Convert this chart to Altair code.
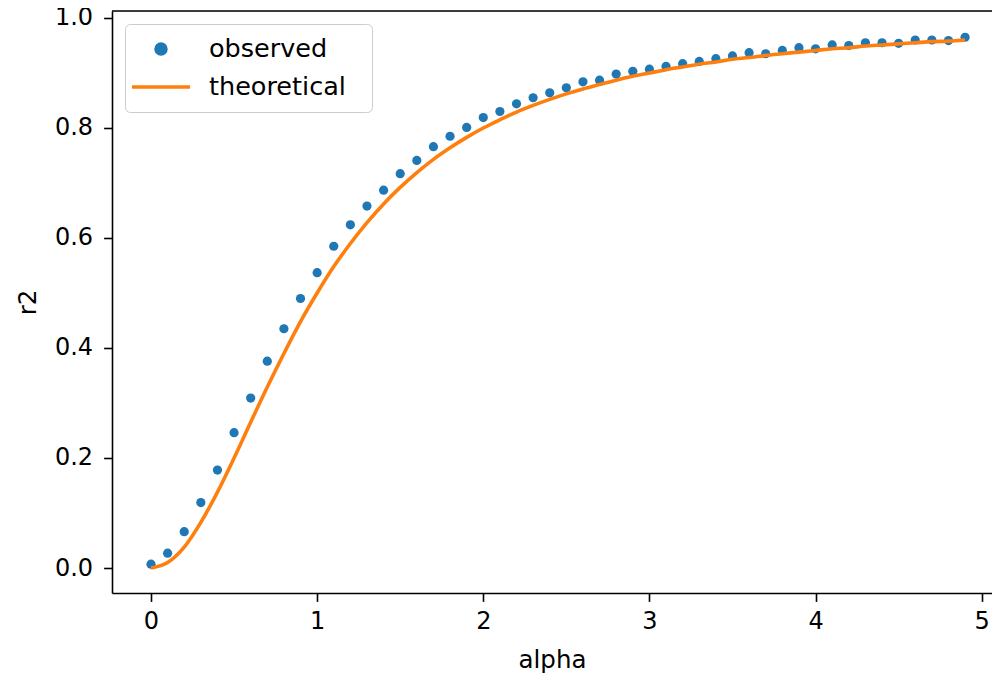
import altair as alt
import pandas as pd

# ---- data ----
alpha = [0.0, 0.1, 0.2, 0.3, 0.4, 0.5, 0.6, 0.7, 0.8, 0.9,
         1.0, 1.1, 1.2, 1.3, 1.4, 1.5, 1.6, 1.7, 1.8, 1.9,
         2.0, 2.1, 2.2, 2.3, 2.4, 2.5, 2.6, 2.7, 2.8, 2.9,
         3.0, 3.1, 3.2, 3.3, 3.4, 3.5, 3.6, 3.7, 3.8, 3.9,
         4.0, 4.1, 4.2, 4.3, 4.4, 4.5, 4.6, 4.7, 4.8, 4.9]

observed = [0.007, 0.027, 0.066, 0.119, 0.178, 0.246, 0.309, 0.376, 0.435, 0.490,
            0.537, 0.585, 0.624, 0.658, 0.687, 0.717, 0.741, 0.766, 0.785, 0.801,
            0.819, 0.830, 0.844, 0.855, 0.864, 0.873, 0.884, 0.887, 0.898, 0.903,
            0.907, 0.912, 0.917, 0.921, 0.926, 0.931, 0.937, 0.935, 0.941, 0.946,
            0.944, 0.951, 0.950, 0.955, 0.955, 0.954, 0.960, 0.960, 0.959, 0.965]

theoretical = [0.000, 0.010, 0.038, 0.083, 0.138, 0.200, 0.265, 0.329, 0.390, 0.448,
               0.500, 0.548, 0.590, 0.628, 0.662, 0.692, 0.719, 0.743, 0.764, 0.783,
               0.800, 0.815, 0.829, 0.841, 0.852, 0.862, 0.871, 0.879, 0.887, 0.894,
               0.900, 0.906, 0.911, 0.916, 0.920, 0.925, 0.928, 0.932, 0.935, 0.938,
               0.941, 0.944, 0.946, 0.949, 0.951, 0.953, 0.955, 0.957, 0.958, 0.960]

series_names = ["observed", "theoretical"]
series_colors = ["#1f77b4", "#ff7f0e"]
x_ticks = [0, 1, 2, 3, 4, 5]
y_ticks = [0.0, 0.2, 0.4, 0.6, 0.8, 1.0]

obs_df = pd.DataFrame({"alpha": alpha, "r2": observed, "series": "observed"})
theo_df = pd.DataFrame({"alpha": alpha, "r2": theoretical, "series": "theoretical"})

FONT = "DejaVu Sans"
W, H = 880, 582

xscale = alt.Scale(domain=[-0.2347, 5.062], nice=False, zero=False)
yscale = alt.Scale(domain=[-0.04545, 1.0127], nice=False, zero=False)

xaxis = alt.Axis(values=x_ticks, format="d", title="alpha", grid=False,
                 tickSize=8.4, tickWidth=1.6, tickColor="#000",
                 domainColor="#000", domainWidth=1.6,
                 labelFont=FONT, labelFontSize=24, labelColor="#000", labelPadding=8.4,
                 titleFont=FONT, titleFontSize=24.5, titleFontWeight="normal",
                 titleColor="#000", titleY=55, labelFlush=False)
yaxis = alt.Axis(values=y_ticks, format=".1f", title="r2", grid=False,
                 tickSize=8.4, tickWidth=1.6, tickColor="#000",
                 domainColor="#000", domainWidth=1.6,
                 labelFont=FONT, labelFontSize=24, labelColor="#000", labelPadding=11,
                 titleFont=FONT, titleFontSize=24.5, titleFontWeight="normal",
                 titleColor="#000", titleX=-72, labelFlush=False)

IS_OBS = "datum.value === 'observed'"
# small dot drawn inside the (large) legend symbol box; scale unit = sqrt(size)/2
DOT_PATH = "M-0.17,0A0.17,0.17,0,1,0,0.17,0A0.17,0.17,0,1,0,-0.17,0Z"
legend = alt.Legend(
    orient="none", legendX=13, legendY=13, title=None, columns=1,
    labelFont=FONT, labelFontSize=25.5, labelColor="#000",
    labelExpr="datum.label + '\u2800'",
    padding=7, rowPadding=2, clipHeight=36,
    symbolType=alt.ExprRef(expr=f"{IS_OBS} ? '{DOT_PATH}' : 'stroke'"),
    symbolSize=3364, symbolStrokeWidth=3.6,
    symbolFillColor=alt.ExprRef(expr=f"{IS_OBS} ? '#1f77b4' : 'transparent'"),
    symbolStrokeColor=alt.ExprRef(expr=f"{IS_OBS} ? 'transparent' : '#ff7f0e'"),
    symbolOpacity=1,
    symbolOffset=-2, labelOffset=17,
    fillColor="rgba(255,255,255,0.8)", strokeColor="#cccccc", cornerRadius=5,
)

color = alt.Color("series:N", scale=alt.Scale(domain=series_names, range=series_colors),
                  legend=legend)

points = alt.Chart(obs_df).mark_circle(size=85, opacity=1).encode(
    x=alt.X("alpha:Q", scale=xscale, axis=xaxis),
    y=alt.Y("r2:Q", scale=yscale, axis=yaxis),
    color=color,
)

line = alt.Chart(theo_df).mark_line(strokeWidth=3.6, interpolate="monotone").encode(
    x=alt.X("alpha:Q", scale=xscale, axis=xaxis),
    y=alt.Y("r2:Q", scale=yscale, axis=yaxis),
    color=color,
)

top_spine = alt.Chart(pd.DataFrame({"k": [0]})).mark_rule(
    color="#000", strokeWidth=1.6).encode(
    x=alt.value(0), x2=alt.value(W), y=alt.value(0))

chart = alt.layer(points, line, top_spine).properties(
    width=W, height=H,
    autosize=alt.AutoSizeParams(type="none"),
    padding={"left": 104, "top": 3, "right": 0, "bottom": 84},
).configure_view(strokeWidth=0).configure(background="white")

chart.save("out.html", embed_options={"renderer": "svg", "actions": False})
